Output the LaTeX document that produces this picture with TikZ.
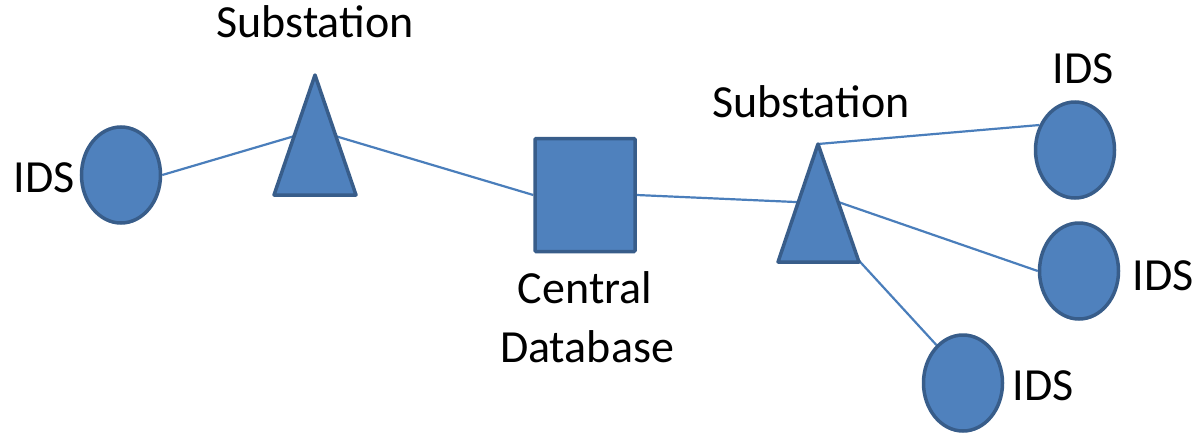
\documentclass[tikz,border=0pt]{standalone}
\usepackage{fontspec}
\setmainfont{Carlito}
\usetikzlibrary{shapes.geometric,backgrounds}
\definecolor{shapefill}{HTML}{4F81BD}
\definecolor{shapeborder}{HTML}{385D8A}
\definecolor{linkcol}{HTML}{4A7EBB}
\begin{document}
\begin{tikzpicture}[x=1pt,y=-1pt,
  idsnode/.style={ellipse,draw=shapeborder,fill=shapefill,line width=3.5pt,minimum width=79pt,minimum height=96pt,inner sep=0pt},
  dbnode/.style={rectangle,draw=shapeborder,fill=shapefill,line width=3.5pt,minimum width=100pt,minimum height=113pt,inner sep=0pt,rounded corners=1pt},
  tri/.style={draw=shapeborder,fill=shapefill,line width=3.5pt,line join=round},
  link/.style={draw=linkcol,line width=2.2pt},
  lbl/.style={font=\fontsize{46}{50}\selectfont,anchor=base,inner sep=0pt}
]
\useasboundingbox (0,0) rectangle (1201,434);

% nodes
\node[idsnode] (idsL) at (121,175) {};
\node[dbnode] (db) at (585,195) {};
\node[idsnode] (idsT) at (1075,150) {};
\node[idsnode] (idsM) at (1079,271) {};
\node[idsnode] (idsB) at (963,383) {};

% triangles
\coordinate (subL) at (315,130);
\coordinate (subRa) at (818,203);
\coordinate (subRb) at (818,195);
\coordinate (subRc) at (818,216);
\coordinate (subRtop) at (818,144);
\draw[tri] (315,75) -- (356,195) -- (274,195) -- cycle;
\draw[tri] (818,144) -- (859,262) -- (778,262) -- cycle;

% connectors
\begin{scope}[on background layer]
\draw[link] (idsL.east) -- (subL);
\draw[link] (subL) -- (db.west);
\draw[link] (db.east) -- (subRa);
\draw[link] (subRtop) -- (idsT.145);
\draw[link] (subRb) -- (idsM.west);
\draw[link] (subRc) -- (idsB.125);
\end{scope}

% labels
\node[lbl] (tL) at (315,37) {Substation};
\node[lbl] (tR) at (811,117) {Substation};
\node[lbl] (tC) at (585,303) {Central};
\node[lbl] (tD) at (587,362) {Database};
\node[lbl] (i1) at (44,192) {IDS};
\node[lbl] (i2) at (1083,83) {IDS};
\node[lbl] (i3) at (1163,290) {IDS};
\node[lbl] (i4) at (1043,400) {IDS};
\end{tikzpicture}
\end{document}
